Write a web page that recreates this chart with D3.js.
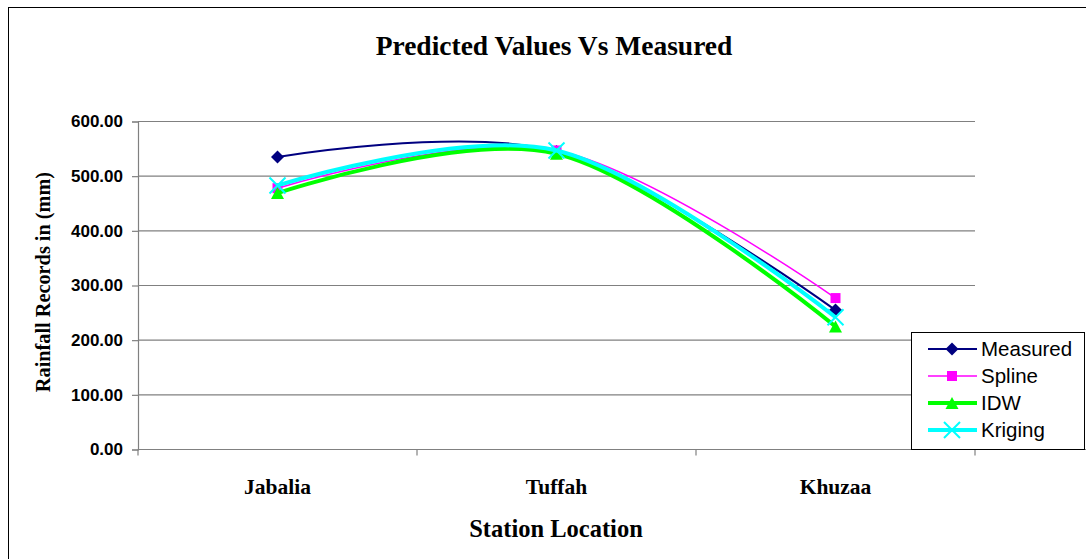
<!DOCTYPE html>
<html><head><meta charset="utf-8">
<script src="https://cdn.jsdelivr.net/npm/d3@7"></script>
<style>body{margin:0;background:#fff;overflow:hidden}svg{display:block}</style>
</head><body>
<script>
const categories = ["Jabalia", "Tuffah", "Khuzaa"];
const yTicks = [0, 100, 200, 300, 400, 500, 600];
const measured = [535, 545, 255];
const spline = [478, 547, 277];
const idw = [469, 541, 225];
const kriging = [483, 547, 242];
const seriesNames = ["Measured", "Spline", "IDW", "Kriging"];

(function () {
const series = [
  {name: seriesNames[0], values: measured, color: "#000080", width: 2, marker: "diamond"},
  {name: seriesNames[1], values: spline, color: "#ff00ff", width: 1.5, marker: "square"},
  {name: seriesNames[2], values: idw, color: "#00ff00", width: 4, marker: "triangle"},
  {name: seriesNames[3], values: kriging, color: "#00ffff", width: 4, marker: "x"}
];

const W = 1086, H = 559;
const svg = d3.select("body").append("svg").attr("width", W).attr("height", H);
const serif = "Liberation Serif, Times New Roman, serif";
const sans = "Liberation Sans, Arial, sans-serif";

// outer frame
svg.append("rect").attr("x", 8.5).attr("y", 7.5).attr("width", 1100).attr("height", 600)
  .attr("fill", "none").attr("stroke", "#000").attr("stroke-width", 1);

const pL = 138, pR = 975, pT = 121.5, pB = 449.5;
const x = d3.scaleBand().domain(categories).range([pL, pR]).paddingInner(0).paddingOuter(0);
const y = d3.scaleLinear().domain([0, 600]).range([pB, pT]);

// gridlines
svg.append("g").selectAll("line").data(yTicks.filter(d => d > 0)).join("line")
  .attr("x1", pL).attr("x2", pR).attr("y1", d => y(d)).attr("y2", d => y(d))
  .attr("stroke", "#808080").attr("stroke-width", 1.2);

// y axis
const yAxis = d3.axisLeft(y).tickValues(yTicks).tickSize(6).tickPadding(9).tickFormat(d3.format(".2f"));
const gy = svg.append("g").attr("transform", `translate(${pL},0)`).call(yAxis);
gy.select(".domain").attr("stroke", "#808080").attr("stroke-width", 1.2);
gy.selectAll(".tick line").attr("stroke", "#808080").attr("stroke-width", 1.2);
gy.selectAll("text").attr("font-family", sans)
  .attr("font-weight", "bold").attr("font-size", 17).attr("fill", "#000");

// x axis
svg.append("line").attr("x1", pL).attr("x2", W).attr("y1", pB).attr("y2", pB)
  .attr("stroke", "#808080").attr("stroke-width", 1.2);
const boundaries = categories.map(c => x(c)).concat([pR]);
svg.append("g").selectAll("line").data(boundaries).join("line")
  .attr("x1", d => d).attr("x2", d => d).attr("y1", pB).attr("y2", pB + 6)
  .attr("stroke", "#808080").attr("stroke-width", 1.2);
svg.append("g").selectAll("text").data(categories).join("text")
  .attr("x", d => x(d) + x.bandwidth() / 2).attr("y", 494)
  .attr("text-anchor", "middle").attr("font-family", serif)
  .attr("font-weight", "bold").attr("font-size", 21.5).text(d => d);

// titles
svg.append("text").attr("x", 554).attr("y", 55).attr("text-anchor", "middle")
  .attr("font-family", serif).attr("font-weight", "bold")
  .attr("font-size", 27.5).text("Predicted Values Vs Measured");
svg.append("text").attr("x", 556).attr("y", 537).attr("text-anchor", "middle")
  .attr("font-family", serif).attr("font-weight", "bold")
  .attr("font-size", 24.5).text("Station Location");
svg.append("text").attr("transform", "translate(50,282) rotate(-90)").attr("text-anchor", "middle")
  .attr("font-family", serif).attr("font-weight", "bold")
  .attr("font-size", 20.3).text("Rainfall Records in (mm)");

// lines
const cx = c => x(c) + x.bandwidth() / 2;
const line = d3.line().x((d, i) => cx(categories[i])).y(d => y(d)).curve(d3.curveCardinal.tension(0));

function drawMarker(g, type, color, px, py) {
  if (type === "diamond") {
    g.append("path").attr("d", `M${px},${py-6.5}L${px+6.5},${py}L${px},${py+6.5}L${px-6.5},${py}Z`).attr("fill", color);
  } else if (type === "square") {
    g.append("rect").attr("x", px - 5).attr("y", py - 5).attr("width", 10).attr("height", 10).attr("fill", color);
  } else if (type === "triangle") {
    g.append("path").attr("d", `M${px},${py-6}L${px+6.5},${py+6}L${px-6.5},${py+6}Z`).attr("fill", color);
  } else if (type === "x") {
    g.append("path").attr("d", `M${px-8},${py-8}L${px+8},${py+8}M${px+8},${py-8}L${px-8},${py+8}`)
      .attr("stroke", color).attr("stroke-width", 2).attr("fill", "none");
  }
}

series.forEach(s => {
  const g = svg.append("g");
  g.append("path").datum(s.values).attr("d", line).attr("fill", "none")
    .attr("stroke", s.color).attr("stroke-width", s.width);
  s.values.forEach((v, i) => drawMarker(g, s.marker, s.color, cx(categories[i]), y(v)));
});

// legend
const lg = svg.append("g");
lg.append("rect").attr("x", 911.5).attr("y", 332.5).attr("width", 173).attr("height", 117)
  .attr("fill", "#fff").attr("stroke", "#000").attr("stroke-width", 1);
series.forEach((s, i) => {
  const ly = 349 + i * 27;
  lg.append("line").attr("x1", 928).attr("x2", 977).attr("y1", ly).attr("y2", ly)
    .attr("stroke", s.color).attr("stroke-width", s.width);
  drawMarker(lg, s.marker, s.color, 952, ly);
  lg.append("text").attr("x", 981).attr("y", ly + 7).attr("font-family", sans)
    .attr("font-size", 20.5).text(s.name);
});
})();
</script>
</body></html>
